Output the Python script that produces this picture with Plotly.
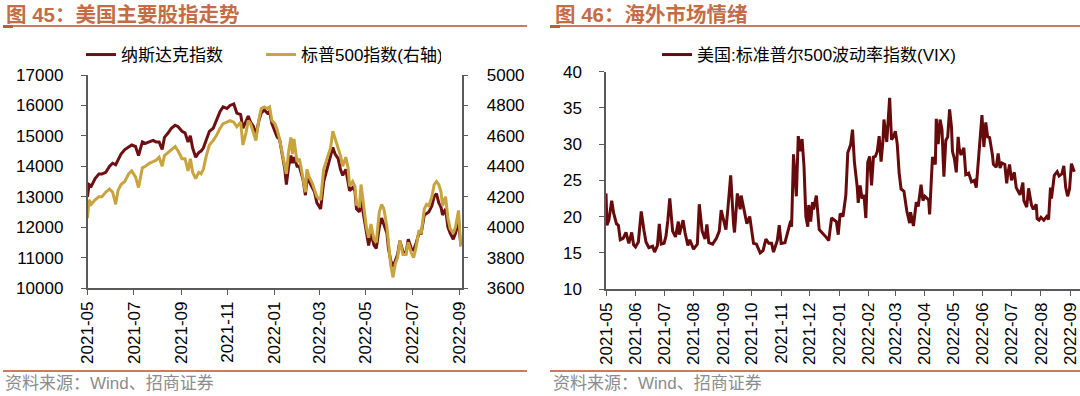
import plotly.graph_objects as go

# ---------------- data: left chart (US indices) ----------------
us_dates = [
    "2021-05-01", "2021-05-03", "2021-05-06", "2021-05-11", "2021-05-16", "2021-05-20", "2021-05-25", "2021-05-30",
    "2021-06-03", "2021-06-07", "2021-06-10", "2021-06-14", "2021-06-19", "2021-06-24", "2021-06-28",
    "2021-07-03", "2021-07-07", "2021-07-12", "2021-07-16", "2021-07-21", "2021-07-26", "2021-07-30",
    "2021-08-03", "2021-08-07", "2021-08-10", "2021-08-15", "2021-08-19", "2021-08-24", "2021-08-28",
    "2021-09-02", "2021-09-06", "2021-09-10", "2021-09-13", "2021-09-16", "2021-09-20", "2021-09-24", "2021-09-27", "2021-09-30",
    "2021-10-04", "2021-10-08", "2021-10-13", "2021-10-17", "2021-10-22", "2021-10-26", "2021-10-31",
    "2021-11-04", "2021-11-09", "2021-11-13", "2021-11-18", "2021-11-21", "2021-11-25", "2021-11-28",
    "2021-12-01", "2021-12-05", "2021-12-08", "2021-12-12", "2021-12-15", "2021-12-19", "2021-12-23", "2021-12-26", "2021-12-29",
    "2022-01-02", "2022-01-05", "2022-01-08", "2022-01-11", "2022-01-15", "2022-01-17", "2022-01-20", "2022-01-23", "2022-01-25", "2022-01-27", "2022-01-31",
    "2022-02-03", "2022-02-05", "2022-02-08", "2022-02-11", "2022-02-13", "2022-02-16", "2022-02-20", "2022-02-23", "2022-02-26",
    "2022-03-03", "2022-03-07", "2022-03-12", "2022-03-16", "2022-03-19", "2022-03-22", "2022-03-26", "2022-03-29",
    "2022-04-01", "2022-04-05", "2022-04-08", "2022-04-10", "2022-04-14", "2022-04-17", "2022-04-19", "2022-04-23", "2022-04-25", "2022-04-29",
    "2022-05-02", "2022-05-05", "2022-05-08", "2022-05-12", "2022-05-15", "2022-05-19", "2022-05-22", "2022-05-25", "2022-05-29", "2022-05-31",
    "2022-06-03", "2022-06-06", "2022-06-09", "2022-06-12", "2022-06-15", "2022-06-19", "2022-06-23", "2022-06-26", "2022-06-30",
    "2022-07-03", "2022-07-06", "2022-07-10", "2022-07-13", "2022-07-17", "2022-07-20", "2022-07-23", "2022-07-27", "2022-07-30",
    "2022-08-02", "2022-08-05", "2022-08-08", "2022-08-10", "2022-08-14", "2022-08-17", "2022-08-20", "2022-08-24", "2022-08-27", "2022-08-31",
    "2022-09-03",
]
nasdaq = [
    13000, 13400, 13350, 13600, 13750, 13750, 13800, 14000,
    14100, 14050, 14200, 14400, 14550, 14650, 14700,
    14650, 14350, 14800, 14750, 14800, 14850, 14800,
    14800, 14550, 14950, 15100, 15250, 15350, 15300,
    15150, 15100, 14800, 15000, 14600, 14300, 14450, 14500, 14600,
    14900, 15150, 15250, 15500, 15800, 15950, 15900,
    16000, 16050, 15750, 15700, 15250, 15500, 15650,
    15450, 15300, 15000, 15500, 15750, 15850, 15750, 15800, 15400,
    15100, 14950, 14900, 14500, 13900, 13400, 14000, 14350, 14100, 14300, 14000,
    14000, 13800, 13550, 13050, 13600, 13500, 13300, 13150, 12800,
    12600, 13500, 14000, 14300, 14620, 14400, 14250, 13900,
    13700, 13900, 13550, 13200, 13300, 13200, 12600, 12500, 12900, 12300,
    11800, 11400, 11800, 11400, 11300, 12000, 12300, 12100, 11800, 11300,
    10900, 10700, 10900, 11100, 11550, 11200, 11150, 11600, 11300,
    11250, 11450, 11800, 11800, 12400, 12450, 12500, 12700, 13000,
    13100, 12800, 12650, 12400, 12600, 12000, 11800, 11600, 11800, 12200,
    11400,
]
spx = [
    4060, 4180, 4150, 4180, 4200, 4200, 4230, 4250,
    4230, 4150, 4240, 4280, 4300, 4350, 4370,
    4330, 4260, 4390, 4400, 4420, 4430, 4440,
    4460, 4400, 4470, 4490, 4510, 4530, 4500,
    4450, 4450, 4370, 4450, 4360, 4320, 4360, 4350, 4380,
    4470, 4540, 4570, 4600, 4650, 4680, 4690,
    4700, 4690, 4660, 4690, 4540, 4620, 4700,
    4680, 4620, 4570, 4710, 4780, 4790, 4780, 4790, 4700,
    4680, 4640, 4580, 4500, 4400, 4350, 4500, 4590, 4480, 4580, 4430,
    4450, 4400, 4300, 4230, 4380, 4330, 4290, 4250, 4200,
    4180, 4380, 4460, 4520, 4630, 4580, 4520, 4470,
    4400, 4460, 4390, 4270, 4300, 4270, 4150, 4140, 4280, 4120,
    4000, 3930, 4020, 3920, 3900, 4100, 4150, 4120, 4000, 3900,
    3750, 3670, 3760, 3800, 3910, 3820, 3820, 3900, 3830,
    3800, 3860, 3980, 3960, 4120, 4150, 4140, 4200, 4280,
    4300, 4280, 4230, 4140, 4200, 4060, 3990, 3960, 4000, 4110,
    3870,
]

# ---------------- data: right chart (VIX) ----------------
vix_dates = [
    "2021-05-01", "2021-05-02", "2021-05-04", "2021-05-07", "2021-05-09", "2021-05-12", "2021-05-14", "2021-05-16",
    "2021-05-19", "2021-05-22", "2021-05-25", "2021-05-28", "2021-05-30",
    "2021-06-01", "2021-06-04", "2021-06-07", "2021-06-10", "2021-06-12", "2021-06-15", "2021-06-19", "2021-06-21",
    "2021-06-24", "2021-06-26", "2021-06-28",
    "2021-07-01", "2021-07-03", "2021-07-05", "2021-07-07", "2021-07-10", "2021-07-13", "2021-07-16", "2021-07-17",
    "2021-07-21", "2021-07-23", "2021-07-26", "2021-07-28",
    "2021-08-01", "2021-08-05", "2021-08-07", "2021-08-10", "2021-08-13", "2021-08-15", "2021-08-17", "2021-08-21",
    "2021-08-25", "2021-08-28", "2021-08-30",
    "2021-09-01", "2021-09-04", "2021-09-06", "2021-09-09", "2021-09-12", "2021-09-13", "2021-09-16", "2021-09-19",
    "2021-09-20", "2021-09-23", "2021-09-26", "2021-09-29",
    "2021-10-03", "2021-10-06", "2021-10-10", "2021-10-13", "2021-10-16", "2021-10-19", "2021-10-22", "2021-10-24",
    "2021-10-28", "2021-10-30",
    "2021-11-01", "2021-11-05", "2021-11-07", "2021-11-11", "2021-11-12", "2021-11-14", "2021-11-17", "2021-11-19",
    "2021-11-21", "2021-11-23", "2021-11-25", "2021-11-27", "2021-11-29", "2021-11-30",
    "2021-12-02", "2021-12-04", "2021-12-05", "2021-12-08", "2021-12-11", "2021-12-14", "2021-12-18", "2021-12-21",
    "2021-12-24", "2021-12-27", "2021-12-29", "2021-12-31",
    "2022-01-02", "2022-01-05", "2022-01-08", "2022-01-10", "2022-01-13", "2022-01-15", "2022-01-17", "2022-01-20",
    "2022-01-21", "2022-01-23", "2022-01-25", "2022-01-27", "2022-01-29", "2022-01-31",
    "2022-02-02", "2022-02-04", "2022-02-06", "2022-02-08", "2022-02-10", "2022-02-12", "2022-02-14", "2022-02-16",
    "2022-02-17", "2022-02-20", "2022-02-21", "2022-02-23", "2022-02-25", "2022-02-27",
    "2022-03-01", "2022-03-03", "2022-03-05", "2022-03-07", "2022-03-10", "2022-03-13", "2022-03-16", "2022-03-17",
    "2022-03-20", "2022-03-23", "2022-03-25", "2022-03-28", "2022-03-30",
    "2022-04-01", "2022-04-05", "2022-04-06", "2022-04-09", "2022-04-12", "2022-04-13", "2022-04-15", "2022-04-17",
    "2022-04-19", "2022-04-21", "2022-04-23", "2022-04-25", "2022-04-27", "2022-04-29", "2022-04-30",
    "2022-05-02", "2022-05-04", "2022-05-06", "2022-05-07", "2022-05-09", "2022-05-12", "2022-05-14", "2022-05-17",
    "2022-05-20", "2022-05-23", "2022-05-25", "2022-05-28", "2022-05-31",
    "2022-06-02", "2022-06-04", "2022-06-06", "2022-06-08", "2022-06-11", "2022-06-12", "2022-06-15", "2022-06-17",
    "2022-06-19", "2022-06-21", "2022-06-24", "2022-06-26", "2022-06-27", "2022-06-29",
    "2022-07-01", "2022-07-04", "2022-07-06", "2022-07-08", "2022-07-10", "2022-07-13", "2022-07-14", "2022-07-17",
    "2022-07-19", "2022-07-22", "2022-07-24", "2022-07-27", "2022-07-28", "2022-07-30",
    "2022-08-01", "2022-08-04", "2022-08-07", "2022-08-09", "2022-08-11", "2022-08-12", "2022-08-15", "2022-08-18",
    "2022-08-20", "2022-08-23", "2022-08-25", "2022-08-27", "2022-08-29", "2022-08-31", "2022-09-02", "2022-09-05",
]
vix = [
    23.2, 18.8, 19.5, 22.2, 20.5, 19.0, 18.8, 16.8,
    17.0, 17.8, 16.3, 17.8, 16.1,
    15.8, 16.5, 20.7, 18.0, 16.5, 15.7, 15.9, 15.1,
    16.0, 19.0, 16.2,
    16.3, 17.3, 19.5, 22.5, 18.0, 17.2, 19.3, 17.5,
    19.5, 17.8, 16.0, 16.8,
    15.5, 16.2, 21.7, 18.0, 16.9, 18.9, 16.4, 16.2,
    17.0, 18.0, 20.9,
    19.8, 18.2, 21.0, 25.7, 19.0, 17.8, 23.2, 21.0,
    22.9, 21.0, 19.0, 20.0,
    16.3, 16.2, 15.0, 15.3, 16.9, 16.3, 16.3, 15.1,
    16.7, 18.8,
    16.3, 16.4, 17.5, 19.4, 18.6, 28.6, 22.8, 31.1,
    29.0, 30.7, 27.0, 20.0, 18.6, 21.6,
    19.3, 22.0, 21.0, 22.9, 18.2, 17.8, 17.2, 16.7,
    19.8, 19.5, 19.3, 17.5,
    20.4, 20.0, 23.0, 28.8, 29.9, 32.0, 27.5, 24.0,
    21.9, 24.3, 22.5, 23.0, 19.8, 27.5,
    28.3, 24.3, 28.2, 28.3, 29.0, 31.1, 27.6, 30.5,
    33.4, 30.3, 32.0, 36.4, 30.6, 31.0,
    31.8, 30.0, 26.0, 23.8, 23.5, 20.8, 19.1, 20.6,
    18.7, 22.0, 21.4, 24.4, 22.2,
    22.8, 22.3, 20.3, 28.2, 27.2, 33.5, 30.0, 33.4,
    32.0, 25.5, 30.5, 31.0, 34.8, 32.3, 29.0,
    28.0, 26.1, 31.0, 29.5, 28.5, 29.5, 25.8, 26.0,
    24.8, 25.0, 24.0, 29.0, 34.0,
    29.6, 33.0, 31.0, 30.9, 28.5, 27.2, 26.8, 28.7,
    26.7, 27.4, 27.2, 24.6, 25.8, 27.2,
    25.0, 26.1, 24.0, 23.5, 23.0, 24.7, 22.2, 21.3,
    23.9, 21.6, 21.0, 21.7, 19.7, 19.5,
    19.9, 19.5, 20.0, 19.6, 24.0, 22.5, 25.7, 26.2,
    25.6, 25.9, 27.0, 24.0, 22.8, 23.8, 27.3, 26.2,
]

# ---------------- texts & styles ----------------
title_left = "<b>图 45：美国主要股指走势</b>"
title_right = "<b>图 46：海外市场情绪</b>"
source_text = "资料来源：Wind、招商证券"
NQ_C = "#6E0F12"
SP_C = "#C9A43E"
VIX_C = "#660A0C"
TITLE_C = "#C46C45"
LINE_C = "#C97D5D"
AX_C = "#5A5A5A"
FONT = "Liberation Sans, Arial, Noto Sans CJK SC, sans-serif"

W, H = 1080, 396
def px(x):
    return x / W
def py(y):
    return 1 - y / H

fig = go.Figure()
fig.add_trace(go.Scatter(x=us_dates, y=nasdaq, name="纳斯达克指数", mode="lines",
                         line=dict(color=NQ_C, width=3), xaxis="x", yaxis="y", legend="legend"))
fig.add_trace(go.Scatter(x=us_dates, y=spx, name="标普500指数(右轴)", mode="lines",
                         line=dict(color=SP_C, width=3), xaxis="x", yaxis="y2", legend="legend"))
fig.add_trace(go.Scatter(x=vix_dates, y=vix, name="美国:标准普尔500波动率指数(VIX)", mode="lines",
                         line=dict(color=VIX_C, width=3), xaxis="x2", yaxis="y3", legend="legend2"))

tickfont = dict(family=FONT, size=17, color="#000000")
common_axis = dict(showgrid=False, zeroline=False, showline=True, linecolor=AX_C, linewidth=1.5,
                   ticks="outside", ticklen=5, tickcolor=AX_C, tickwidth=1.2, tickfont=tickfont,
                   automargin=False, ticklabeloverflow="allow")

fig.update_layout(
    template="none",
    width=W, height=H, margin=dict(l=0, r=0, t=0, b=0, pad=0, autoexpand=False),
    paper_bgcolor="white", plot_bgcolor="white",
    font=dict(family=FONT, size=17, color="#000000"),
    xaxis=dict(domain=[px(87.5), px(461.6)], type="date", range=["2021-05-01", "2022-09-04"],
               tick0="2021-05-01", dtick="M2", tickformat="%Y-%m", tickangle=-90, anchor="y", **common_axis),
    yaxis=dict(domain=[py(288), py(75)], range=[10000, 17000], dtick=1000, tickformat="d", anchor="x",
               ticklabelstandoff=14, **common_axis),
    yaxis2=dict(overlaying="y", side="right", range=[3600, 5000], dtick=200, tickformat="d", anchor="x",
                ticklabelstandoff=15, **common_axis),
    xaxis2=dict(domain=[px(606), 1.0], type="date", range=["2021-05-01", "2022-09-11"],
                tick0="2021-05-01", dtick="M1", tickformat="%Y-%m", tickangle=-90, anchor="y3", **common_axis),
    yaxis3=dict(domain=[py(289), py(71.7)], range=[10, 40], dtick=5, tickformat="d", anchor="x2",
                ticklabelstandoff=14, **common_axis),
    legend=dict(x=px(81), y=py(55), xanchor="left", yanchor="middle", orientation="h",
                font=dict(family=FONT, size=17, color="#000000"), bgcolor="rgba(0,0,0,0)",
                entrywidth=135, entrywidthmode="pixels"),
    legend2=dict(x=px(657), y=py(55), xanchor="left", yanchor="middle", orientation="h",
                 font=dict(family=FONT, size=17, color="#000000"), bgcolor="rgba(0,0,0,0)"),
    showlegend=True,
)

shapes = []
for x0, x1 in [(3, 527), (550, 1080)]:
    for yy in [26, 371]:
        shapes.append(dict(type="line", xref="paper", yref="paper", x0=px(x0), x1=px(x1), y0=py(yy), y1=py(yy),
                           line=dict(color=LINE_C, width=2)))
    shapes.append(dict(type="line", xref="paper", yref="paper", x0=px(x0), x1=px(x0 + 10), y0=py(26.5), y1=py(26.5),
                       line=dict(color="#B5603D", width=3)))
fig.update_layout(shapes=shapes)

ann = [
    dict(text=title_left, x=px(4), y=py(14), xref="paper", yref="paper", xanchor="left", yanchor="middle",
         showarrow=False, font=dict(family=FONT, size=20.5, color=TITLE_C)),
    dict(text=title_right, x=px(553), y=py(14), xref="paper", yref="paper", xanchor="left", yanchor="middle",
         showarrow=False, font=dict(family=FONT, size=20.5, color=TITLE_C)),
    dict(text=source_text, x=px(3), y=py(383), xref="paper", yref="paper", xanchor="left", yanchor="middle",
         showarrow=False, font=dict(family=FONT, size=17, color="#8C8C8C")),
    dict(text=source_text, x=px(551), y=py(383), xref="paper", yref="paper", xanchor="left", yanchor="middle",
         showarrow=False, font=dict(family=FONT, size=17, color="#8C8C8C")),
]
fig.update_layout(annotations=ann)

fig.write_html("out.html", config={"displayModeBar": False},
               post_script="document.body.style.margin='0';document.body.style.overflow='hidden';")
